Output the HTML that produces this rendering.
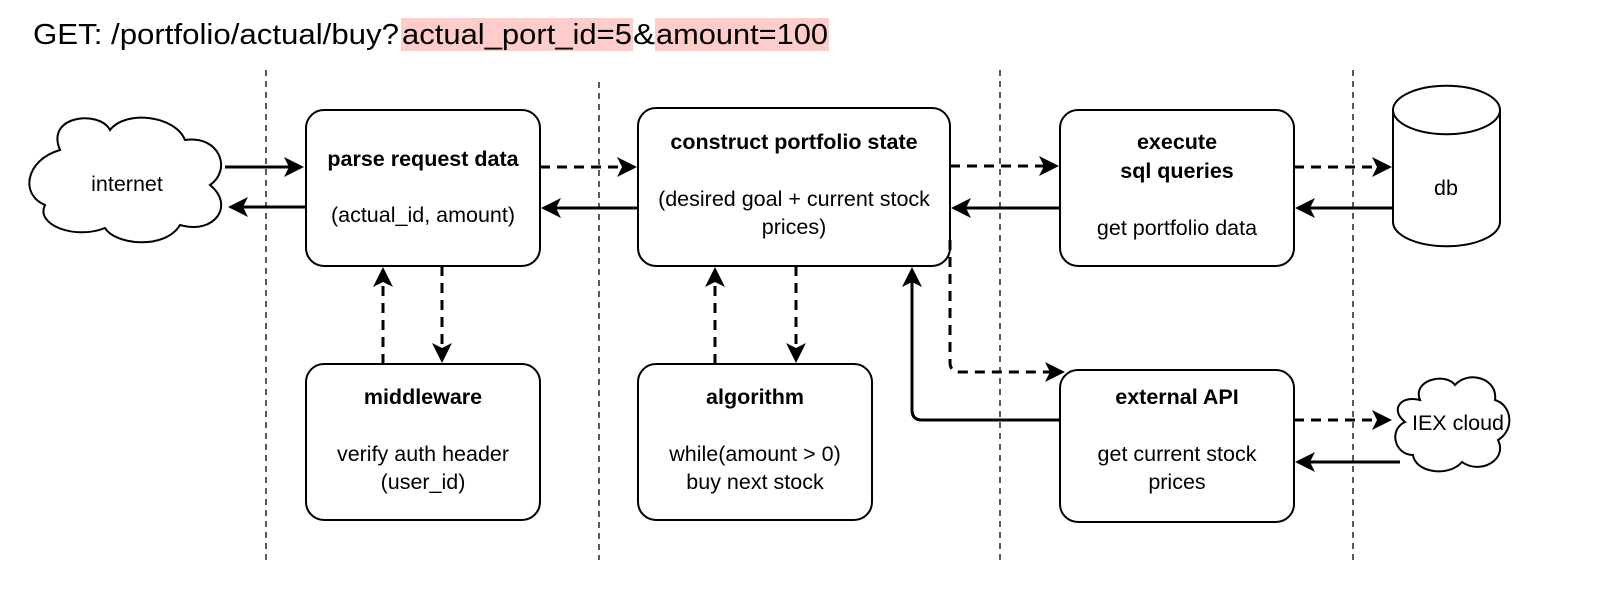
<!DOCTYPE html>
<html><head><style>
body{margin:0;background:#fff;}
svg text{font-family:"Liberation Sans",Arial,sans-serif;font-size:21.5px;fill:#000;}
</style></head><body>
<svg width="1602" height="586" viewBox="0 0 1602 586" xmlns="http://www.w3.org/2000/svg">
<rect x="401" y="18" width="232" height="33" fill="#ffcccc"/>
<rect x="655" y="18" width="174" height="33" fill="#ffcccc"/>
<text x="33" y="44" style="font-size:29px" textLength="366" lengthAdjust="spacingAndGlyphs">GET: /portfolio/actual/buy?</text>
<text x="402" y="44" style="font-size:29px" textLength="230" lengthAdjust="spacingAndGlyphs">actual_port_id=5</text>
<text x="633" y="44" style="font-size:29px" textLength="22" lengthAdjust="spacingAndGlyphs">&amp;</text>
<text x="656" y="44" style="font-size:29px" textLength="172" lengthAdjust="spacingAndGlyphs">amount=100</text>
<g stroke="#000" stroke-width="1.3" stroke-dasharray="6,5">
<line x1="266" y1="70" x2="266" y2="560"/><line x1="599" y1="82" x2="599" y2="560"/>
<line x1="1000" y1="70" x2="1000" y2="560"/><line x1="1353" y1="70" x2="1353" y2="560"/>
</g>
<g fill="#fff" stroke="#000" stroke-width="2">
<rect x="306" y="110" width="234" height="156" rx="18"/>
<rect x="638" y="108" width="312" height="158" rx="18"/>
<rect x="1060" y="110" width="234" height="156" rx="18"/>
<rect x="306" y="364" width="234" height="156" rx="18"/>
<rect x="638" y="364" width="234" height="156" rx="18"/>
<rect x="1060" y="370" width="234" height="152" rx="18"/>
<path d="M1393 110 A53 24 0 0 1 1500 110 L1500 222 A53 24 0 0 1 1393 222 Z"/>
<path d="M1393 110 A53 24 0 0 0 1500 110" fill="none"/>
<path d="M60 150 C45 115 100 110 110 130 C125 110 175 115 185 140 C220 135 232 170 210 185 C235 205 215 235 180 225 C165 250 115 245 105 228 C75 240 35 225 45 205 C20 195 25 160 60 150 Z"/>
<path d="M1420 400 C1412 380 1445 372 1455 385 C1468 370 1498 378 1495 400 C1512 405 1515 430 1498 440 C1508 460 1480 475 1462 462 C1448 478 1415 472 1413 455 C1395 455 1388 430 1405 422 C1390 410 1400 395 1420 400 Z"/>
</g>
<g text-anchor="middle">
<text x="127" y="191">internet</text>
<text x="423" y="166" font-weight="bold">parse request data</text>
<text x="423" y="222">(actual_id, amount)</text>
<text x="794" y="149" font-weight="bold">construct portfolio state</text>
<text x="794" y="206">(desired goal + current stock</text>
<text x="794" y="234">prices)</text>
<text x="1177" y="149" font-weight="bold">execute</text>
<text x="1177" y="178" font-weight="bold">sql queries</text>
<text x="1177" y="235">get portfolio data</text>
<text x="1446" y="195">db</text>
<text x="423" y="404" font-weight="bold">middleware</text>
<text x="423" y="461">verify auth header</text>
<text x="423" y="489">(user_id)</text>
<text x="755" y="404" font-weight="bold">algorithm</text>
<text x="755" y="461">while(amount &gt; 0)</text>
<text x="755" y="489">buy next stock</text>
<text x="1177" y="404" font-weight="bold">external API</text>
<text x="1177" y="461">get current stock</text>
<text x="1177" y="489">prices</text>
<text x="1458" y="430">IEX cloud</text>
</g>
<g stroke="#000" stroke-width="3" fill="none">
<line x1="225" y1="167" x2="296" y2="167"/>
<line x1="306" y1="207" x2="238" y2="207"/>
<line x1="540" y1="167" x2="628" y2="167" stroke-dasharray="10,7"/>
<line x1="638" y1="208" x2="552" y2="208"/>
<line x1="950" y1="166" x2="1050" y2="166" stroke-dasharray="10,7"/>
<line x1="1060" y1="208" x2="962" y2="208"/>
<line x1="1294" y1="167" x2="1383" y2="167" stroke-dasharray="10,7"/>
<line x1="1393" y1="208" x2="1306" y2="208"/>
<line x1="383" y1="364" x2="383" y2="278" stroke-dasharray="10,7"/>
<line x1="442" y1="266" x2="442" y2="352" stroke-dasharray="10,7"/>
<line x1="715" y1="364" x2="715" y2="278" stroke-dasharray="10,7"/>
<line x1="796" y1="266" x2="796" y2="352" stroke-dasharray="10,7"/>
<path d="M950 240 L950 362 Q950 372 960 372 L1054 372" stroke-dasharray="10,7"/>
<path d="M1060 420 L922 420 Q912 420 912 410 L912 278"/>
<line x1="1294" y1="420" x2="1382" y2="420" stroke-dasharray="10,7"/>
<line x1="1400" y1="462" x2="1306" y2="462"/>
</g>
<g fill="#000">
<path d="M304 167 L284 157 L289 167 L284 177 Z"/>
<path d="M228 207 L248 197 L243 207 L248 217 Z"/>
<path d="M637 167 L617 157 L622 167 L617 177 Z"/>
<path d="M541 208 L561 198 L556 208 L561 218 Z"/>
<path d="M1059 166 L1039 156 L1044 166 L1039 176 Z"/>
<path d="M951 208 L971 198 L966 208 L971 218 Z"/>
<path d="M1392 167 L1372 157 L1377 167 L1372 177 Z"/>
<path d="M1295 208 L1315 198 L1310 208 L1315 218 Z"/>
<path d="M383 267 L373 287 L383 282 L393 287 Z"/>
<path d="M442 363 L432 343 L442 348 L452 343 Z"/>
<path d="M715 267 L705 287 L715 282 L725 287 Z"/>
<path d="M796 363 L786 343 L796 348 L806 343 Z"/>
<path d="M1065 372 L1045 362 L1050 372 L1045 382 Z"/>
<path d="M912 267 L902 287 L912 282 L922 287 Z"/>
<path d="M1392 420 L1372 410 L1377 420 L1372 430 Z"/>
<path d="M1295 462 L1315 452 L1310 462 L1315 472 Z"/>
</g>
</svg>
</body></html>
